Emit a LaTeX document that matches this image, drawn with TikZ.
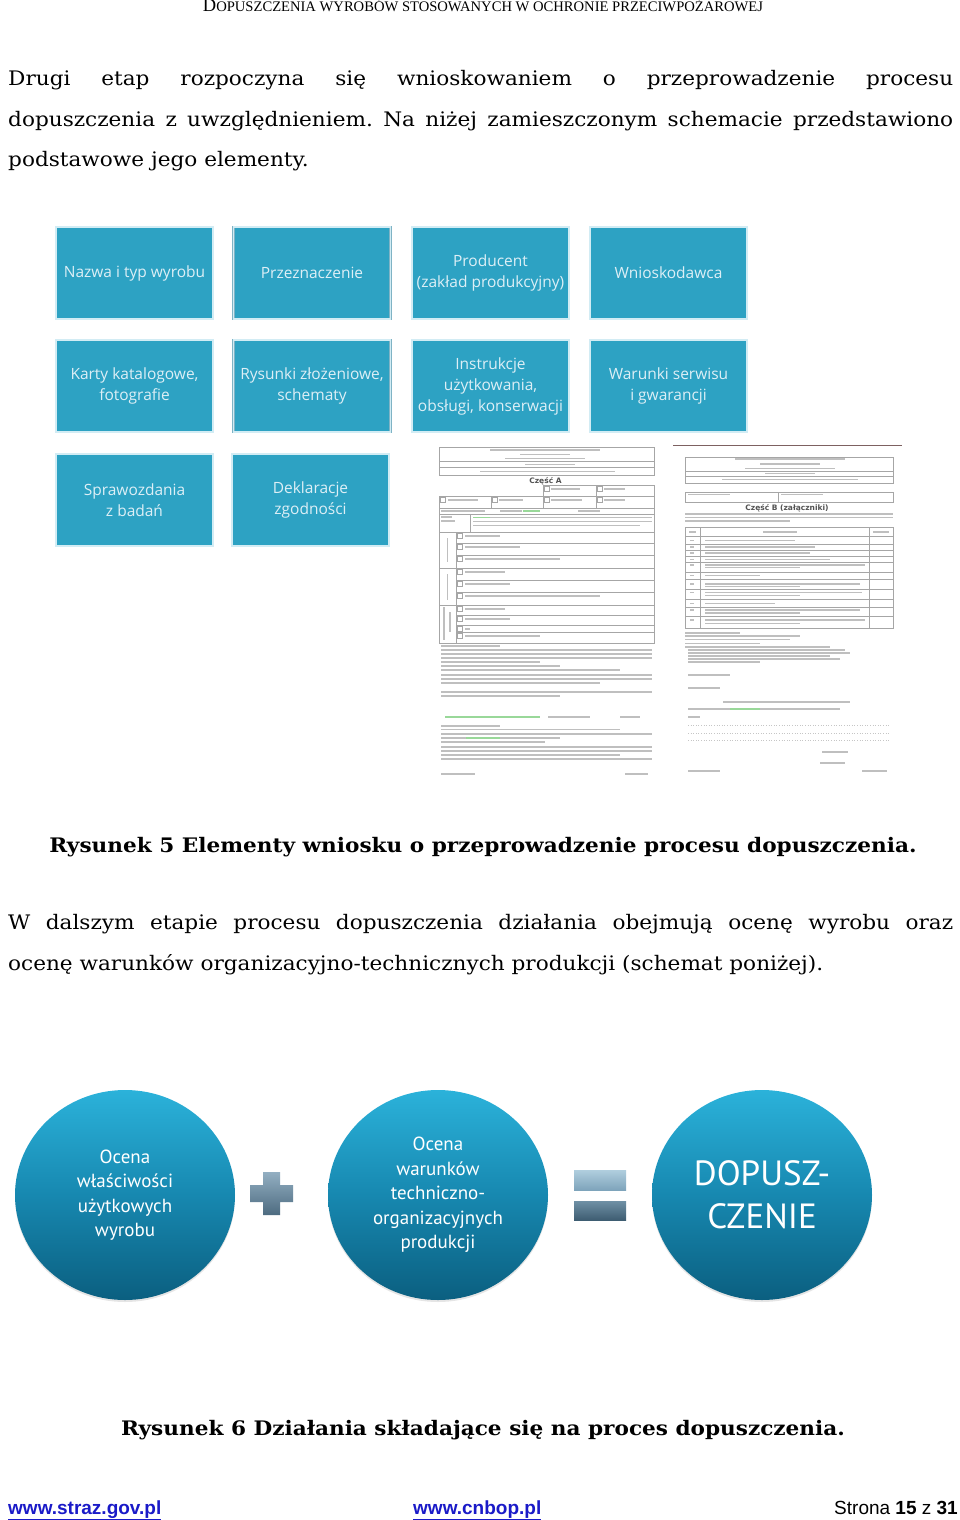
\documentclass[tikz,border=0pt]{standalone}
\usepackage{fontspec}
\setmainfont{DejaVu Serif}[FakeStretch=1.08]
\newfontfamily\hdrfont{Liberation Serif}
\newfontfamily\boxfont{Open Sans}
\newfontfamily\circfont{PT Sans}
\newfontfamily\footfont{Liberation Sans}
\newfontfamily\formfont{DejaVu Sans}
\usetikzlibrary{shapes.geometric,shadows}
\definecolor{boxfill}{HTML}{2DA2C3}
\definecolor{boxedge}{HTML}{7FB3C5}
\definecolor{boxrim}{HTML}{D2ECF4}
\definecolor{boxtext}{HTML}{DDEFF6}
\definecolor{cTop}{HTML}{2BB2DA}
\definecolor{cMid}{HTML}{1788B0}
\definecolor{cBot}{HTML}{0B5F80}
\definecolor{plusTop}{HTML}{93AFC2}
\definecolor{plusBot}{HTML}{4D6B80}
\definecolor{eqTopA}{HTML}{B0CEDE}
\definecolor{eqTopB}{HTML}{7EA4BB}
\definecolor{eqBotA}{HTML}{6F90A5}
\definecolor{eqBotB}{HTML}{3E5D72}
\definecolor{linkblue}{HTML}{1A1AC8}
\frenchspacing
\begin{document}
\begin{tikzpicture}[x=1pt,y=-1pt,
  bodyline/.style={anchor=base west,inner sep=0pt,font=\fontsize{20}{24}\selectfont},
  caption/.style={anchor=base,inner sep=0pt,font=\fontsize{20}{24}\selectfont\bfseries},
  elbox/.style={draw=boxedge,double=boxrim,double distance=1.6pt,line width=0.5pt,fill=boxfill,
    minimum width=157pt,minimum height=92pt,inner sep=0pt,align=center,text=boxtext,
    font=\boxfont\fontsize{15.5}{21}\selectfont},
  circ/.style={ellipse,minimum width=220pt,minimum height=210pt,inner sep=0pt,align=center,
    top color=cTop,bottom color=cBot,middle color=cMid,text=white,
    drop shadow={opacity=0.2,shadow xshift=0pt,shadow yshift=-2pt},
    font=\circfont\fontsize{19}{24.5}\selectfont},
  fl/.style={draw=gray!70,line width=0.6pt},
  tb/.style={draw=gray!50,line width=1.3pt},
  tg/.style={draw=green!45!gray!55,line width=1.1pt},
  formtitle/.style={inner sep=0pt,text=gray!65!black,font=\formfont\bfseries\fontsize{7.5}{8}\selectfont}
]
\useasboundingbox (0,0) rectangle (960,1520);
\fill[white] (0,0) rectangle (960,1520);

% header
\node[anchor=base,inner sep=0pt] (hdr) at (483,12)
  {\hdrfont\fontsize{18.5}{18}\selectfont D\fontsize{14.6}{14}\selectfont OPUSZCZENIA WYROBÓW STOSOWANYCH W OCHRONIE PRZECIWPOŻAROWEJ};

% paragraph 1
\node[bodyline] (p1) at (8,85) {\makebox[945pt][s]{Drugi etap rozpoczyna się wnioskowaniem o przeprowadzenie procesu}};
\node[bodyline] (p2) at (8,126) {\makebox[945pt][s]{dopuszczenia z uwzględnieniem. Na niżej zamieszczonym schemacie przedstawiono}};
\node[bodyline] (p3) at (8,166) {podstawowe jego elementy.};

% element boxes
\node[elbox] (b1) at (134.5,273) {Nazwa i typ wyrobu};
\node[elbox] (b2) at (312,273) {Przeznaczenie};
\node[elbox] (b3) at (490.5,273) {Producent\\(zakład produkcyjny)};
\node[elbox] (b4) at (668.5,273) {Wnioskodawca};
\node[elbox] (b5) at (134.5,386) {Karty katalogowe,\\fotografie};
\node[elbox] (b6) at (312,386) {Rysunki złożeniowe,\\schematy};
\node[elbox] (b7) at (490.5,386) {Instrukcje\\użytkowania,\\obsługi, konserwacji};
\node[elbox] (b8) at (668.5,386) {Warunki serwisu\\i gwarancji};
\node[elbox] (b9) at (134.5,500) {Sprawozdania\\z badań};
\node[elbox] (b10) at (310.5,500) {Deklaracje\\zgodności};

% ---------- left form (Część A) ----------
\draw[fl] (439,447) rectangle (654,475);
\draw[fl] (439,461.7) -- (654,461.7) (439,467.7) -- (654,467.7);
\foreach \a/\b/\y in {490/600/450, 520/570/454.3, 505/585/458.8, 525/575/464.6, 480/615/471.7}
  \draw[tb] (\a,\y) -- (\b,\y);
\node[formtitle] (czA) at (545.5,481.5) {Część A};
\draw[fl] (543,485) rectangle (654,496);
\draw[fl] (596,485) -- (596,496);
\draw[fl] (439,496) rectangle (654,643);
\foreach \x in {491,543,596} \draw[fl] (\x,496) -- (\x,508);
\foreach \y in {508,514,532,568,605} \draw[fl] (439,\y) -- (654,\y);
\draw[fl] (470,514) -- (470,532);
\draw[fl] (456,532) -- (456,643);
\foreach \y in {543,555,580,592,615,625,632} \draw[fl] (456,\y) -- (654,\y);
\foreach \y in {532,543,555,568,580,592,605,615,625,632}
  \draw[fl] (457.5,\y+1.5) rectangle (462.5,\y+6);
\foreach \x/\y in {544/485,597/485,440/496,492/496,544/496,597/496}
  \draw[fl] (\x,\y+1.5) rectangle (\x+5,\y+6);
\foreach \y/\l in {532/500,543/520,555/560,568/505,580/510,592/600,605/505,615/510,625/470,632/540}
  \draw[tb] (465,\y+4) -- (\l,\y+4);
\foreach \a/\b/\y in {551/580/489, 604/625/489, 448/478/500, 499/523/500, 551/582/500, 604/625/500,
    441/485/511, 500/522/511, 578/600/511, 441/452/517, 441/455/521,
    473/652/517.5, 473/652/521.5, 473/640/525.5}
  \draw[tb] (\a,\y) -- (\b,\y);
\draw[tg] (523,511) -- (540,511) (473,517.5) -- (490,517.5);
\draw[tb] (447.5,538) -- (447.5,562) (447.5,574) -- (447.5,600) (444,607) -- (444,640) (450,612) -- (450,632);
\foreach \a/\b/\y in {441/500/646, 441/652/650, 441/652/654, 441/652/658, 441/540/662, 441/560/666,
    441/620/670, 441/652/675, 441/652/679, 441/600/683, 441/652/692, 441/560/696,
    548/590/717, 620/640/717, 441/500/726, 441/620/729.5, 441/652/734, 441/560/738,
    441/545/742, 441/652/747, 441/652/751, 441/620/755, 441/652/759, 441/475/774, 625/648/774}
  \draw[tb] (\a,\y) -- (\b,\y);
\draw[tg] (445,717) -- (540,717) (466,738) -- (500,738);

% ---------- right form (Część B) ----------
\draw[draw=gray!60!red!40!black,line width=1pt,opacity=0.7] (673,445) -- (902,445);
\draw[fl] (685,457) rectangle (893,483);
\draw[fl] (685,471) -- (893,471) (685,476.7) -- (893,476.7);
\foreach \a/\b/\y in {735/845/459, 760/820/464, 745/835/468.3, 765/815/473.5, 722/858/479.6}
  \draw[tb] (\a,\y) -- (\b,\y);
\draw[fl] (685,492) rectangle (893,502);
\draw[fl] (778,492) -- (778,502);
\draw[tb] (688,494.5) -- (730,494.5) (781,494.5) -- (823,494.5);
\node[formtitle] (czB) at (787,509) {Część B \underline{(załączniki)}};
\foreach \a/\b/\y in {685/893/514, 685/893/517.5, 685/790/521}
  \draw[tb] (\a,\y) -- (\b,\y);
\draw[fl] (685,527) rectangle (893,628.3);
\draw[fl] (700,527) -- (700,628.3) (869,527) -- (869,628.3);
\foreach \y in {536.7,544,550,556,562.3,572.7,579,589.3,599.3,607.3,616.7}
  \draw[fl] (685,\y) -- (893,\y);
\draw[tb] (689,532) -- (696,532) (763,532) -- (797,532) (873,532) -- (889,532);
\foreach \y/\l in {540.3/795, 547/815, 553/810, 559.2/830, 565/865, 575.8/760, 584/860, 592.5/862, 603.3/775, 610/860, 620/865}
  {\draw[tb] (690,\y) -- (694,\y); \draw[tb] (705,\y) -- (\l,\y);}
\foreach \y in {567.5,586.5,595.5,613,623.5} \draw[tb] (705,\y) -- (800,\y);
\foreach \a/\b/\y in {685/740/633, 685/800/636, 685/790/639.5, 685/760/643.3, 685/830/647,
    688/845/650, 688/850/653, 688/830/656, 688/840/659, 688/760/662, 688/730/675, 688/720/688,
    723/850/702, 688/840/709, 688/700/717, 822/848/752, 820/845/763, 688/720/771, 862/887/771}
  \draw[tb] (\a,\y) -- (\b,\y);
\draw[tg] (730,709) -- (760,709);
\foreach \y in {725,733,740} \draw[gray!45,line width=0.6pt,dotted] (688,\y) -- (890,\y);

% caption 1
\node[caption] (cap1) at (483,852) {Rysunek 5 Elementy wniosku o przeprowadzenie procesu dopuszczenia.};

% paragraph 2
\node[bodyline] (q1) at (8,929) {\makebox[945pt][s]{W dalszym etapie procesu dopuszczenia działania obejmują ocenę wyrobu oraz}};
\node[bodyline] (q2) at (8,970) {ocenę warunków organizacyjno-technicznych produkcji (schemat poniżej).};

% circles
\node[circ] (c1) at (125,1195) {Ocena\\właściwości\\użytkowych\\wyrobu};
\node[circ] (c2) at (438,1195) {Ocena\\warunków\\techniczno-\\organizacyjnych\\produkcji};
\node[circ,font=\circfont\fontsize{35}{43}\selectfont] (c3) at (762,1195) {DOPUSZ-\\CZENIE};

% plus sign
\shade[top color=plusTop,bottom color=plusBot]
  (263,1172) -- (280,1172) -- (280,1185) -- (293,1185) -- (293,1202) -- (280,1202) -- (280,1215)
  -- (263,1215) -- (263,1202) -- (250,1202) -- (250,1185) -- (263,1185) -- cycle;
% equals sign
\shade[top color=eqTopA,bottom color=eqTopB] (574,1170) rectangle (626,1190);
\shade[top color=eqBotA,bottom color=eqBotB] (574,1201) rectangle (626,1220);

% caption 2
\node[caption] (cap2) at (483,1435) {Rysunek 6 Działania składające się na proces dopuszczenia.};

% footer
\node[anchor=base west,inner sep=0pt,font=\footfont\fontsize{19}{22}\selectfont\bfseries,text=linkblue] (f1) at (8,1514) {\underline{www.straz.gov.pl}};
\node[anchor=base west,inner sep=0pt,font=\footfont\fontsize{19}{22}\selectfont\bfseries,text=linkblue] (f2) at (413,1514) {\underline{www.cnbop.pl}};
\node[anchor=base east,inner sep=0pt,font=\footfont\fontsize{19}{22}\selectfont] (f3) at (958,1514) {Strona \textbf{15} z \textbf{31}};
\end{tikzpicture}
\end{document}
